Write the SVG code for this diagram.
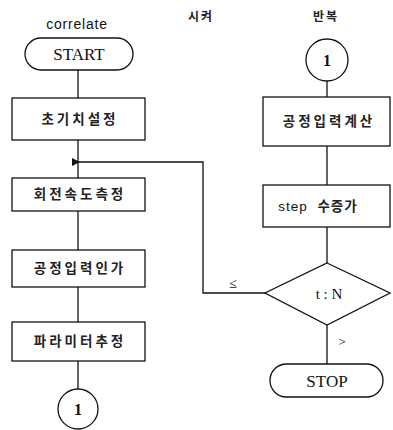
<svg xmlns="http://www.w3.org/2000/svg" width="393" height="430" viewBox="0 0 393 430">
<style>
.s{fill:#fff;stroke:#111;stroke-width:1.3}
.c{fill:none;stroke:#111;stroke-width:1.3}
.k{font-family:"Noto Sans CJK KR",sans-serif;font-size:13.5px;font-weight:bold;fill:#222;text-anchor:middle;letter-spacing:3px}
.r{font-family:"Liberation Serif",serif;fill:#111;text-anchor:middle}
.a{font-family:"Liberation Sans",sans-serif;fill:#111;text-anchor:middle}
</style>
<defs>
<marker id="ah" viewBox="0 0 8 8" refX="1" refY="4" markerWidth="8" markerHeight="8" markerUnits="userSpaceOnUse" orient="auto">
<path d="M0,4 L8,0 L8,8 Z" fill="#111"/>
</marker>
</defs>
<g id="connectors">
<path class="c" d="M78,70 V98"/>
<path class="c" d="M78,140 V178"/>
<path class="c" d="M78,211 V250"/>
<path class="c" d="M78,287 V322"/>
<path class="c" d="M78,361 V389"/>
<path class="c" d="M327,81 V97"/>
<path class="c" d="M327,146 V185"/>
<path class="c" d="M327,227 V263"/>
<path class="c" d="M327,325 V364"/>
<path class="c" d="M265,293 H203 V162 H79" marker-end="url(#ah)"/>
<text class="r" x="233" y="288" font-size="14" fill="#444">≤</text>
<text class="r" x="342" y="346" font-size="13" fill="#444">&gt;</text>
</g>
<g id="header">
<text class="a" x="77" y="29" font-size="14" letter-spacing="0.8">correlate</text>
<text x="201" y="21" font-family="Noto Sans CJK KR,sans-serif" font-size="12" font-weight="bold" text-anchor="middle" fill="#222" letter-spacing="2">시켜</text>
<text x="326" y="21" font-family="Noto Sans CJK KR,sans-serif" font-size="12" font-weight="bold" text-anchor="middle" fill="#222" letter-spacing="2">반복</text>
</g>
<g id="start">
<rect class="s" x="25" y="38" width="108" height="32" rx="16"/>
<text class="r" x="79" y="60" font-size="17">START</text>
</g>
<g id="init">
<rect class="s" x="12" y="98" width="133" height="42"/>
<text class="k" x="80" y="124" letter-spacing="7px">초기치설정</text>
</g>
<g id="speed">
<rect class="s" x="12" y="178" width="133" height="33"/>
<text class="k" x="80" y="199">회전속도측정</text>
</g>
<g id="apply">
<rect class="s" x="12" y="250" width="133" height="37"/>
<text class="k" x="80" y="273">공정입력인가</text>
</g>
<g id="param">
<rect class="s" x="12" y="322" width="133" height="39"/>
<text class="k" x="80" y="346">파라미터추정</text>
</g>
<g id="conn1a">
<circle class="s" cx="78" cy="409" r="20"/>
<text class="r" x="78" y="415" font-size="16" font-weight="bold">1</text>
</g>
<g id="conn1b">
<circle class="s" cx="327" cy="60" r="21"/>
<text class="r" x="327" y="66" font-size="16" font-weight="bold">1</text>
</g>
<g id="calc">
<rect class="s" x="263" y="97" width="127" height="49"/>
<text class="k" x="329" y="126">공정입력계산</text>
</g>
<g id="step">
<rect class="s" x="263" y="185" width="127" height="42"/>
<text x="318" y="211" font-family="Liberation Sans,Noto Sans CJK KR,sans-serif" font-size="13.5" text-anchor="middle" fill="#111" letter-spacing="1" xml:space="preserve">step  <tspan font-family="Noto Sans CJK KR,sans-serif" font-weight="bold" fill="#222">수증가</tspan></text>
</g>
<g id="decision">
<polygon class="s" points="327,263 390,293 327,325 265,293"/>
<text class="r" x="329" y="299" font-size="15">t : N</text>
</g>
<g id="stop">
<rect class="s" x="270" y="364" width="113" height="33" rx="16.5"/>
<text class="r" x="327" y="387" font-size="17">STOP</text>
</g>
</svg>
